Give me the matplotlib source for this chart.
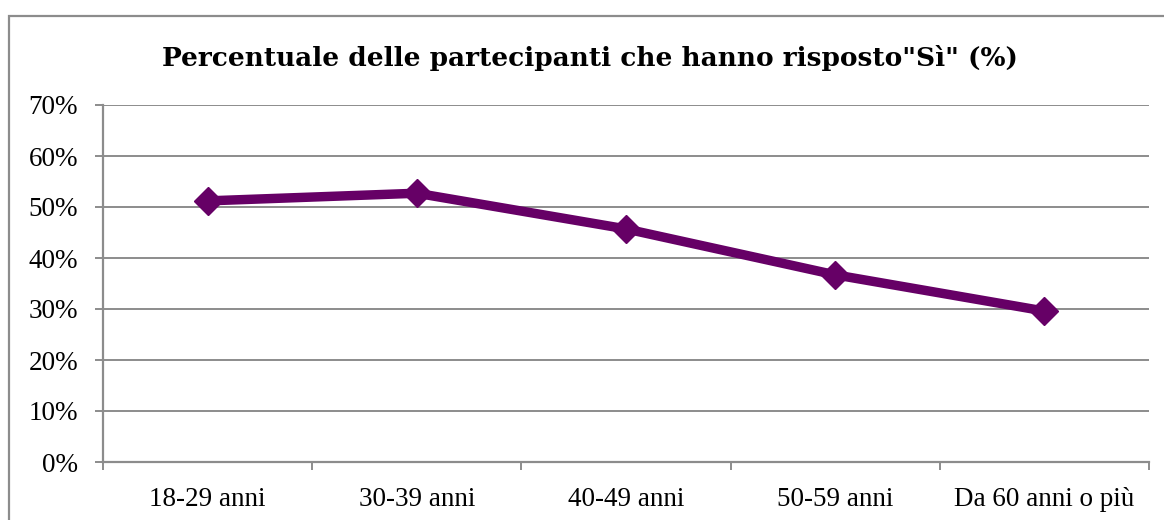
import matplotlib.pyplot as plt
from matplotlib.patches import Rectangle
from matplotlib.ticker import FuncFormatter, MultipleLocator

# Fasce d'età e percentuale di risposte "Sì"
categorie = ["18-29 anni", "30-39 anni", "40-49 anni", "50-59 anni", "Da 60 anni o più"]
percentuali = [51.2, 52.7, 45.7, 36.7, 29.6]

plt.rcParams['font.family'] = ['Liberation Serif', 'DejaVu Serif']

fig = plt.figure(figsize=(11.64, 5.2), dpi=100)
ax = fig.add_axes([103 / 1164, 1 - 462 / 520, (1149 - 103) / 1164, (462 - 105) / 520])

# cornice grigia del grafico
fig.patches.append(Rectangle((9 / 1164, -0.1), 1.1, 1 - 16 / 520 + 0.1,
                             transform=fig.transFigure, fill=False,
                             edgecolor='#8c8c8c', linewidth=1.6))

x = range(len(categorie))
ax.plot(x, percentuali, color='#660066', linewidth=6.8, marker='D',
        markersize=14, solid_capstyle='round', zorder=3)

ax.set_xlim(-0.5, len(categorie) - 0.5)
ax.set_ylim(0, 70)
ax.yaxis.set_major_locator(MultipleLocator(10))
ax.yaxis.set_major_formatter(FuncFormatter(lambda v, p: f"{int(v)}%"))
ax.set_xticks(list(x))
ax.set_xticklabels(categorie)
ax.set_xticks([i - 0.5 for i in range(len(categorie) + 1)], minor=True)

ax.grid(axis='y', color='#8c8c8c', linewidth=1.4)
ax.set_axisbelow(True)
for s in ['top', 'right']:
    ax.spines[s].set_visible(False)
for s in ['left', 'bottom']:
    ax.spines[s].set_color('#8c8c8c')
    ax.spines[s].set_linewidth(1.6)

ax.tick_params(axis='x', which='major', length=0, labelsize=19.5, pad=18)
ax.tick_params(axis='x', which='minor', length=6, color='#8c8c8c', width=1.4)
ax.tick_params(axis='y', length=6, color='#8c8c8c', width=1.4, labelsize=19.5, pad=12)

fig.text(0.507, 1 - 58 / 520, 'Percentuale delle partecipanti che hanno risposto"Sì" (%)',
         ha='center', va='center', fontsize=19, fontweight='bold',
         family='DejaVu Serif')

fig.savefig('out.png', dpi=100)
